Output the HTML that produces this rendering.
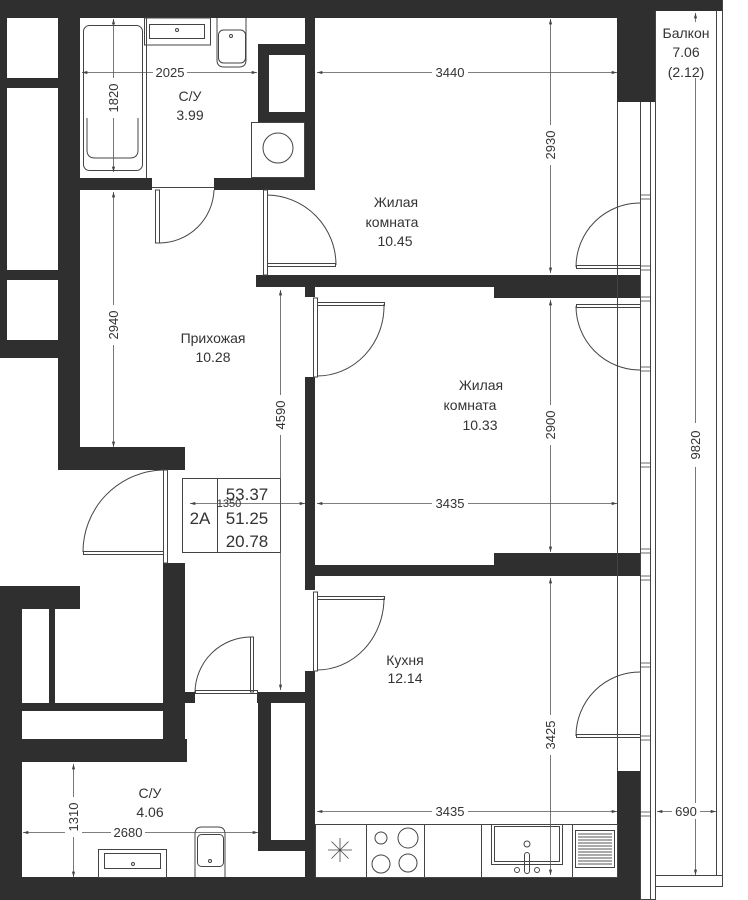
<!DOCTYPE html>
<html><head><meta charset="utf-8"><style>
html,body{margin:0;padding:0;background:#fff;}
svg{display:block;}
text{font-family:"Liberation Sans","DejaVu Sans",sans-serif;fill:#333;}
</style></head><body>
<svg width="748" height="900" viewBox="0 0 748 900" xmlns="http://www.w3.org/2000/svg">
<defs>
<marker id="a" viewBox="0 0 10 6" refX="10" refY="3" markerWidth="8" markerHeight="4" orient="auto-start-reverse"><path d="M0,0L10,3L0,6z" fill="#444"/></marker>
</defs>
<g fill="#2f2f2f">
<!-- top wall -->
<rect x="0" y="0" width="723" height="11"/>
<rect x="0" y="0" width="656" height="18"/>
<!-- left outer column -->
<rect x="0" y="0" width="7" height="358"/>
<rect x="0" y="78" width="58" height="10"/>
<rect x="0" y="270" width="58" height="10"/>
<rect x="0" y="340" width="58" height="18"/>
<rect x="58" y="0" width="22" height="470"/>
<!-- bath1 bottom wall -->
<rect x="58" y="178" width="94" height="12"/>
<rect x="214" y="178" width="101" height="12"/>
<!-- bath1 right wall & niche -->
<rect x="305" y="0" width="10" height="190"/>
<rect x="258" y="44" width="57" height="11"/>
<rect x="258" y="44" width="11" height="78"/>
<rect x="258" y="112" width="57" height="10"/>
<!-- wall between room1/room2 -->
<rect x="256" y="275" width="384" height="12"/>
<rect x="494" y="287" width="146" height="11"/>
<rect x="305" y="287" width="10" height="10"/>
<!-- right block room1 -->
<rect x="617" y="11" width="39" height="91"/>
<!-- hallway bottom-left wall -->
<rect x="58" y="447" width="127" height="23"/>
<!-- hall right wall -->
<rect x="305" y="377" width="10" height="213"/>
<rect x="305" y="671" width="10" height="210"/>
<!-- wall room2/kitchen -->
<rect x="305" y="565" width="335" height="11"/>
<rect x="494" y="553" width="146" height="12"/>
<!-- lower left -->
<rect x="163" y="563" width="22" height="199"/>
<rect x="163" y="692" width="32" height="11"/>
<rect x="257" y="692" width="58" height="11"/>
<rect x="0" y="586" width="80" height="23"/>
<rect x="0" y="586" width="22" height="314"/>
<rect x="49" y="609" width="6" height="94"/>
<rect x="0" y="703" width="185" height="8"/>
<rect x="0" y="739" width="187" height="23"/>
<!-- bath2/kitchen wall -->
<rect x="258" y="700" width="13" height="151"/>
<rect x="258" y="840" width="57" height="11"/>
<!-- kitchen right block -->
<rect x="617" y="771" width="23" height="110"/>
<!-- bottom wall -->
<rect x="0" y="877" width="640" height="23"/>
</g>
<g fill="none" stroke="#444" stroke-width="1">
<!-- window lines -->
<line x1="617.5" y1="102" x2="617.5" y2="771"/>
<line x1="640.5" y1="102" x2="640.5" y2="900"/>
<line x1="650.5" y1="102" x2="650.5" y2="900"/>
<line x1="655.5" y1="11" x2="655.5" y2="900"/>
<line x1="640" y1="899.5" x2="656" y2="899.5"/>
<!-- balcony -->
<line x1="716.5" y1="11" x2="716.5" y2="875"/>
<line x1="722.5" y1="0" x2="722.5" y2="887"/>
<line x1="656" y1="875.5" x2="723" y2="875.5"/>
<line x1="656" y1="886.5" x2="723" y2="886.5"/>
<g stroke-width="0.8">
<rect x="640.5" y="195" width="10" height="4"/><rect x="640.5" y="266" width="10" height="4"/>
<rect x="640.5" y="297" width="10" height="4"/><rect x="640.5" y="367" width="10" height="4"/>
<rect x="640.5" y="463" width="10" height="4"/><rect x="640.5" y="549" width="10" height="4"/>
<rect x="640.5" y="576" width="10" height="4"/><rect x="640.5" y="663" width="10" height="4"/>
<rect x="640.5" y="736" width="10" height="4"/><rect x="640.5" y="812" width="10" height="4"/>
</g>
<!-- balcony doors -->
<path d="M576,267 A64,64 0 0 1 640,203"/>
<rect x="576.5" y="265.5" width="64" height="3"/>
<path d="M576,306 A64,64 0 0 0 640,370"/>
<rect x="576.5" y="304.5" width="64" height="3"/>
<path d="M576,736 A64,64 0 0 1 640,672"/>
<rect x="576.5" y="734.5" width="64" height="3"/>
<!-- room1 door -->
<rect x="263.5" y="190" width="4" height="85"/>
<rect x="267.5" y="263.5" width="68" height="3"/>
<path d="M267,195 A70,70 0 0 1 336,265"/>
<!-- bath1 door -->
<rect x="155.5" y="190" width="4" height="53"/>
<path d="M159,243 A55,55 0 0 0 214,190"/>
<line x1="152" y1="187.5" x2="214" y2="187.5"/>
<!-- room2 door -->
<rect x="313.5" y="298" width="4" height="79"/>
<rect x="317.5" y="302.5" width="67" height="3"/>
<path d="M384,304 A67,70 0 0 1 317,376"/>
<!-- kitchen door -->
<rect x="313.5" y="592" width="4" height="79"/>
<rect x="317.5" y="596.5" width="67" height="3"/>
<path d="M384,598 A67,72 0 0 1 317,670"/>
<!-- entry door -->
<rect x="163.5" y="470" width="4" height="93"/>
<rect x="83.5" y="551.5" width="80" height="3"/>
<path d="M83,552 A82,82 0 0 1 163,470"/>
<!-- bath2 door -->
<rect x="250.5" y="637" width="3" height="55"/>
<path d="M195,692 A56,56 0 0 1 251,637"/>
<rect x="195.5" y="690.5" width="62" height="3"/>
<!-- bath1 fixtures -->
<rect x="83.5" y="25.5" width="59" height="145" rx="6"/>
<path d="M87,118 L87,150 Q87,158 95,158 L130,158 Q138,158 138,150 L138,118"/>
<line x1="146.5" y1="18" x2="146.5" y2="178"/>
<rect x="144.5" y="18" width="66" height="27"/>
<rect x="149.5" y="24.5" width="55" height="14"/>
<circle cx="177" cy="30" r="1.5"/>
<path d="M217,18 L217,60 Q217,67 224,67 L239,67 Q246,67 246,60 L246,18"/>
<rect x="218.5" y="30" width="27" height="33" rx="5"/>
<circle cx="231" cy="36" r="1.5"/>
<rect x="251.5" y="122.5" width="53" height="55"/>
<circle cx="278" cy="148" r="15"/>
<!-- bath2 fixtures -->
<rect x="98.5" y="849.5" width="68" height="28"/>
<rect x="104.5" y="853.5" width="56" height="15"/>
<circle cx="133" cy="864" r="1.5"/>
<path d="M195,877 L195,834 Q195,827 202,827 L218,827 Q225,827 225,834 L225,877"/>
<rect x="197.5" y="834.5" width="26" height="32" rx="4"/>
<circle cx="210" cy="861" r="1.5"/>
<!-- kitchen counter -->
<rect x="315.5" y="824.5" width="302" height="53"/>
<line x1="366.5" y1="824" x2="366.5" y2="877"/>
<line x1="424.5" y1="824" x2="424.5" y2="877"/>
<line x1="481.5" y1="824" x2="481.5" y2="877"/>
<line x1="572.5" y1="824" x2="572.5" y2="877"/>
<path d="M340,838V862M328,850H352M331.5,841.5L348.5,858.5M348.5,841.5L331.5,858.5" stroke-width="0.8"/>
<circle cx="381" cy="838" r="6"/><circle cx="408" cy="838" r="10"/>
<circle cx="381" cy="864" r="9"/><circle cx="408" cy="863" r="9"/>
<rect x="491.5" y="824.5" width="71" height="40"/>
<rect x="494.5" y="826.5" width="65" height="35"/>
<circle cx="527" cy="844" r="3"/>
<rect x="524.5" y="852.5" width="5" height="21" rx="2.5"/>
<circle cx="517" cy="870" r="2.5"/><circle cx="537" cy="870" r="2.5"/>
<rect x="575.5" y="830.5" width="39" height="37"/>
<!-- summary box -->
<rect x="182.5" y="478.5" width="98" height="74"/>
<line x1="217.5" y1="478" x2="217.5" y2="552"/>
</g>
<g stroke="#555" stroke-width="1">
<line x1="578" y1="834" x2="612" y2="834"/><line x1="578" y1="837" x2="612" y2="837"/><line x1="578" y1="840" x2="612" y2="840"/><line x1="578" y1="843" x2="612" y2="843"/><line x1="578" y1="846" x2="612" y2="846"/><line x1="578" y1="849" x2="612" y2="849"/><line x1="578" y1="852" x2="612" y2="852"/><line x1="578" y1="855" x2="612" y2="855"/><line x1="578" y1="858" x2="612" y2="858"/><line x1="578" y1="861" x2="612" y2="861"/><line x1="578" y1="864" x2="612" y2="864"/>
</g>
<!-- dimension lines -->
<g stroke="#555" stroke-width="0.8" fill="none" marker-start="url(#a)" marker-end="url(#a)">
<line x1="82" y1="72.5" x2="257" y2="72.5"/>
<line x1="113.5" y1="19" x2="113.5" y2="172"/>
<line x1="317" y1="72.5" x2="617" y2="72.5"/>
<line x1="550.5" y1="19" x2="550.5" y2="273"/>
<line x1="113.5" y1="192" x2="113.5" y2="447"/>
<line x1="280.5" y1="290" x2="280.5" y2="690"/>
<line x1="550.5" y1="300" x2="550.5" y2="552"/>
<line x1="317" y1="503.5" x2="617" y2="503.5"/>
<line x1="190" y1="503.5" x2="305" y2="503.5"/>
<line x1="550.5" y1="578" x2="550.5" y2="875"/>
<line x1="317" y1="811.5" x2="617" y2="811.5"/>
<line x1="23" y1="832.5" x2="258" y2="832.5"/>
<line x1="73.5" y1="764" x2="73.5" y2="877"/>
<line x1="695.5" y1="13" x2="695.5" y2="875"/>
<line x1="657" y1="811.5" x2="716" y2="811.5"/>
</g>
<!-- label backgrounds for dim text -->
<g fill="#fff">
<rect x="153" y="64" width="34" height="16"/>
<rect x="432" y="64" width="36" height="16"/>
<rect x="542" y="125" width="17" height="40"/>
<rect x="105" y="78" width="17" height="40"/>
<rect x="105" y="305" width="17" height="40"/>
<rect x="272" y="395" width="17" height="40"/>
<rect x="542" y="405" width="17" height="40"/>
<rect x="432" y="495" width="36" height="16"/>
<rect x="542" y="715" width="17" height="40"/>
<rect x="432" y="803" width="36" height="16"/>
<rect x="111" y="824" width="34" height="16"/>
<rect x="65" y="797" width="17" height="40"/>
<rect x="687" y="423" width="17" height="44"/>
<rect x="672" y="803" width="28" height="16"/>
<rect x="676" y="22" width="20" height="56"/>
</g>
<g font-size="13" text-anchor="middle">
<text x="170" y="77">2025</text>
<text x="450" y="77">3440</text>
<text x="450" y="508">3435</text>
<text x="450" y="816">3435</text>
<text x="128" y="837">2680</text>
<text x="686" y="816">690</text>
<text transform="translate(118,98) rotate(-90)">1820</text>
<text transform="translate(555,145) rotate(-90)">2930</text>
<text transform="translate(118,325) rotate(-90)">2940</text>
<text transform="translate(285,415) rotate(-90)">4590</text>
<text transform="translate(555,425) rotate(-90)">2900</text>
<text transform="translate(555,735) rotate(-90)">3425</text>
<text transform="translate(78,817) rotate(-90)">1310</text>
<text transform="translate(700,445) rotate(-90)">9820</text>
<text x="229" y="507" font-size="11">1350</text>
</g>
<g font-size="14" text-anchor="middle">
<text x="190" y="101">С/У</text>
<text x="190" y="120">3.99</text>
<text x="396" y="207">Жилая</text>
<text x="392" y="227">комната</text>
<text x="395" y="246">10.45</text>
<text x="213" y="343">Прихожая</text>
<text x="213" y="362">10.28</text>
<text x="481" y="390">Жилая</text>
<text x="470" y="410">комната</text>
<text x="480" y="430">10.33</text>
<text x="405" y="665">Кухня</text>
<text x="405" y="683">12.14</text>
<text x="150" y="798">С/У</text>
<text x="150" y="817">4.06</text>
<text x="686" y="38">Балкон</text>
<text x="686" y="57">7.06</text>
<text x="686" y="77">(2.12)</text>
</g>
<g font-size="17" text-anchor="middle">
<text x="200" y="524">2A</text>
<text x="247" y="500">53.37</text>
<text x="247" y="524">51.25</text>
<text x="247" y="547">20.78</text>
</g>
</svg>
</body></html>
